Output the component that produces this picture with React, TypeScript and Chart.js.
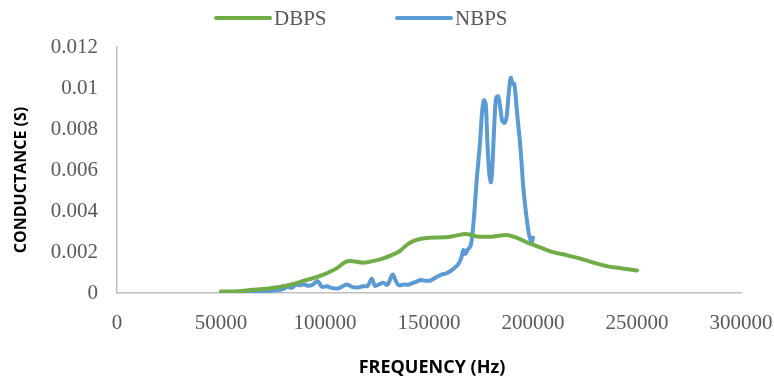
import { useEffect, useRef } from "react";
import { Chart, registerables } from "chart.js";

Chart.register(...registerables);

// DBPS conductance sweep (frequency in Hz, conductance in S)
const dbpsFreq = [
  50000, 60000, 64000, 72000, 83000, 90000, 97600, 105600, 109600, 112000,
  118300, 124000, 128000, 132000, 136000, 140000, 144000, 150000, 158000,
  163000, 167500, 174000, 180000, 187000, 192000, 198000, 204000, 210000,
  216000, 222000, 229000, 236000, 243000, 250000,
];
const dbpsG = [
  0.00007, 0.0001, 0.00015, 0.00021, 0.00039, 0.0006, 0.00083, 0.0012, 0.0015,
  0.00156, 0.00148, 0.00158, 0.00169, 0.00185, 0.00205, 0.0024, 0.00259,
  0.0027, 0.00272, 0.0028, 0.00288, 0.00275, 0.00275, 0.00283, 0.0027,
  0.00243, 0.0022, 0.00198, 0.00185, 0.0017, 0.00148, 0.0013, 0.0012, 0.0011,
];

// NBPS conductance sweep
const nbpsFreq = [
  50000, 55000, 60000, 65000, 70000, 75000, 78000, 80000, 82000, 84000, 86000,
  88000, 90000, 92000, 94000, 96500, 98500, 101000, 103000, 106000, 108000,
  110500, 113000, 116000, 118000, 120500, 122500, 124000, 126000, 128000,
  130000, 132500, 134000, 135500, 138000, 140000, 142000, 144000, 146000,
  148000, 150500, 152000, 154000, 156000, 158000, 160000, 162000, 164000,
  165500, 166500, 167500, 168500, 170000, 171000, 172000, 173000, 174500,
  175500, 176400, 177300, 178000, 179000, 179800, 180500, 181200, 182200,
  183200, 184200, 185200, 186300, 187300, 188300, 189300, 190200, 191000,
  192000, 192700, 193800, 194600, 195300, 196200, 197000, 198000, 198800,
  199500, 200000,
];
const nbpsG = [
  0.00002, 0.00003, 0.00005, 0.00006, 0.00008, 0.00012, 0.00015, 0.0002,
  0.0003, 0.00025, 0.0004, 0.00038, 0.00042, 0.00035, 0.0004, 0.00058, 0.0003,
  0.00033, 0.00025, 0.00022, 0.0003, 0.00042, 0.0003, 0.00027, 0.00033,
  0.00035, 0.0007, 0.00035, 0.00042, 0.0005, 0.0004, 0.0009, 0.0006, 0.00038,
  0.00042, 0.0004, 0.00048, 0.00055, 0.00063, 0.0006, 0.0006, 0.00068, 0.0008,
  0.0009, 0.00095, 0.00105, 0.0012, 0.0014, 0.0017, 0.0021, 0.0019, 0.0021,
  0.0023, 0.003, 0.0042, 0.0056, 0.0073, 0.0088, 0.0094, 0.0092, 0.0075,
  0.0058, 0.0054, 0.0062, 0.0078, 0.0095, 0.0096, 0.0091, 0.0084, 0.0083,
  0.0086, 0.0097, 0.0105, 0.0102, 0.0102, 0.0092, 0.0084, 0.0073, 0.0062,
  0.0052, 0.0043, 0.0036, 0.0029, 0.0026, 0.0025, 0.0027,
];

const seriesNames = ["DBPS", "NBPS"];
const seriesColors = ["#70ad47", "#5b9bd5"];
const xTicks = [0, 50000, 100000, 150000, 200000, 250000, 300000];
const yTicks = [0, 0.002, 0.004, 0.006, 0.008, 0.01, 0.012];
const xTitle = "FREQUENCY (Hz)";
const yTitle = "CONDUCTANCE (S)";

const serif = "'Liberation Serif', 'Times New Roman', serif";
const sans = "'Open Sans', 'Liberation Sans', sans-serif";
const labelGrey = "#595959";

// Line-sample legend above the plot, plus the two bold axis titles
const decorations = {
  id: "decorations",
  afterDraw(chart: Chart) {
    const { ctx, chartArea } = chart;
    const starts = [216, 397];
    ctx.save();
    ctx.font = `21px ${serif}`;
    ctx.textBaseline = "middle";
    ctx.textAlign = "left";
    chart.data.datasets.forEach((ds, i) => {
      const x0 = starts[i];
      const y = 18;
      ctx.strokeStyle = ds.borderColor as string;
      ctx.lineWidth = 4;
      ctx.lineCap = "round";
      ctx.beginPath();
      ctx.moveTo(x0, y);
      ctx.lineTo(x0 + 54, y);
      ctx.stroke();
      ctx.fillStyle = labelGrey;
      ctx.fillText(ds.label as string, x0 + 58, y + 1);
    });

    ctx.fillStyle = "#000";
    ctx.textAlign = "center";
    ctx.textBaseline = "middle";
    ctx.font = `bold 18px ${sans}`;
    ctx.fillText(xTitle, (chartArea.left + chartArea.right) / 2 + 3, 368);

    ctx.font = `bold 16px ${sans}`;
    ctx.translate(21, 180);
    ctx.rotate(-Math.PI / 2);
    ctx.fillText(yTitle, 0, 0);
    ctx.restore();
  },
};

export default function App() {
  const canvasRef = useRef<HTMLCanvasElement | null>(null);

  useEffect(() => {
    const canvas = canvasRef.current;
    if (!canvas) return;
    const chart = new Chart(canvas, {
      type: "line",
      data: {
        datasets: [
          {
            label: seriesNames[0],
            data: dbpsFreq.map((f, i) => ({ x: f, y: dbpsG[i] })),
            borderColor: seriesColors[0],
            backgroundColor: seriesColors[0],
            borderWidth: 4,
            pointRadius: 0,
            tension: 0.4,
            cubicInterpolationMode: "monotone",
            borderCapStyle: "round",
            borderJoinStyle: "round",
          },
          {
            label: seriesNames[1],
            data: nbpsFreq.map((f, i) => ({ x: f, y: nbpsG[i] })),
            borderColor: seriesColors[1],
            backgroundColor: seriesColors[1],
            borderWidth: 4,
            pointRadius: 0,
            tension: 0.3,
            borderCapStyle: "round",
            borderJoinStyle: "round",
          },
        ],
      },
      options: {
        animation: false,
        responsive: false,
        layout: { padding: { top: 47, right: 33, left: 0, bottom: 0 } },
        plugins: {
          legend: { display: false },
          tooltip: { enabled: false },
        },
        scales: {
          x: {
            type: "linear",
            min: 0,
            max: 300000,
            grid: { display: false, drawTicks: false },
            border: { display: true, color: "#bfbfbf", width: 1.5 },
            afterBuildTicks: (s: any) => {
              s.ticks = xTicks.map((v) => ({ value: v }));
            },
            afterFit: (s: any) => {
              s.height = 90;
              s.paddingLeft = 0;
              s.paddingRight = 0;
            },
            ticks: {
              padding: 18,
              maxRotation: 0,
              autoSkip: false,
              color: labelGrey,
              font: { family: serif, size: 21 },
              callback: (v: any) => String(v),
            },
          },
          y: {
            type: "linear",
            min: 0,
            max: 0.012,
            grid: { display: false, drawTicks: false },
            border: { display: true, color: "#bfbfbf", width: 1.5 },
            afterBuildTicks: (s: any) => {
              s.ticks = yTicks.map((v) => ({ value: v }));
            },
            afterFit: (s: any) => {
              s.width = 117;
              s.paddingTop = 0;
              s.paddingBottom = 0;
            },
            ticks: {
              padding: 19,
              color: labelGrey,
              font: { family: serif, size: 21 },
              callback: (v: any) => String(v),
            },
          },
        },
      },
      plugins: [decorations],
    });
    return () => chart.destroy();
  }, []);

  return (
    <div
      style={{
        position: "fixed",
        left: 0,
        top: 0,
        width: 774,
        height: 383,
        background: "#fff",
      }}
    >
      <canvas ref={canvasRef} width={774} height={383} />
    </div>
  );
}
